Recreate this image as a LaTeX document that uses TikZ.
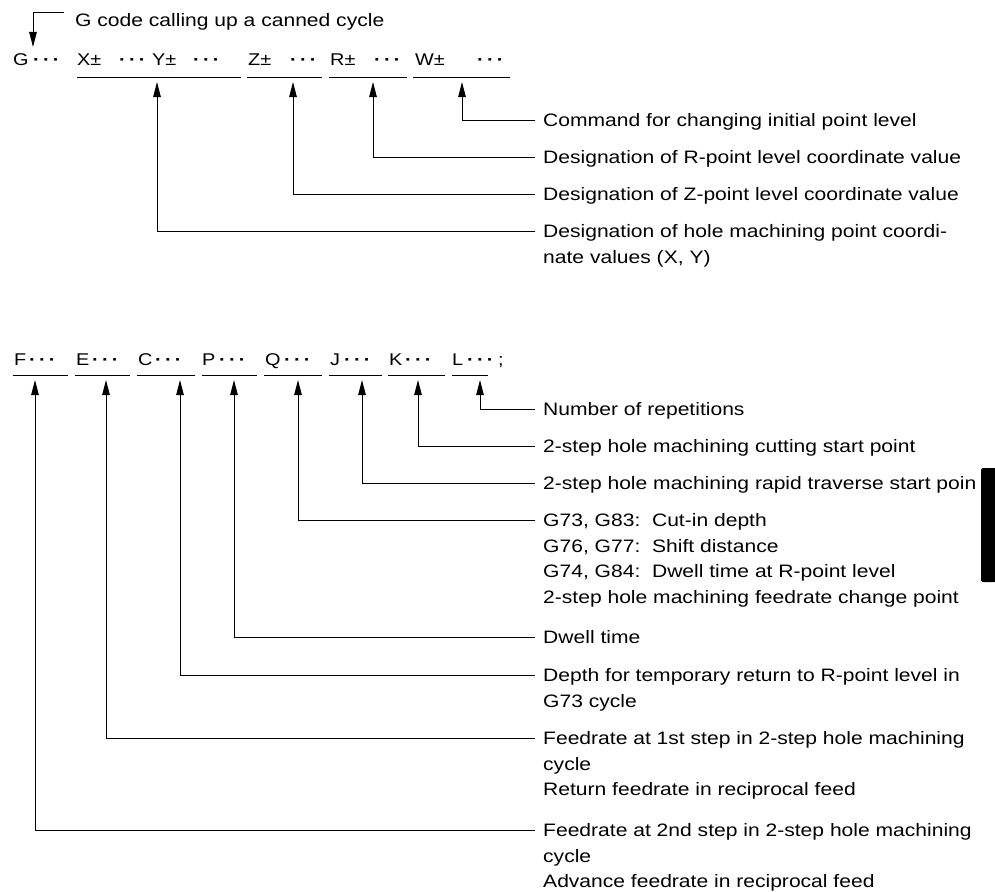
\documentclass[tikz,border=0pt]{standalone}
\usepackage{fontspec}
\setmainfont[FakeStretch=1.17]{Liberation Sans}
\usetikzlibrary{arrows.meta}
\newcommand\tdots{{\bfseries ·\kern3.2pt·\kern3.2pt·}}
\begin{document}
\begin{tikzpicture}[x=1pt,y=-1pt,
  lab/.style={anchor=west,inner sep=0pt,text height=13pt,text depth=0pt,font=\fontsize{18}{22}\selectfont},
  tok/.style={anchor=base west,inner sep=0pt,font=\fontsize{17}{20}\selectfont},
  uline/.style={line width=1pt},
  arr/.style={line width=1pt,-{Triangle[length=15pt,width=7.5pt]}}]
\useasboundingbox (0,0) rectangle (995,891);

% ---------- top formula row ----------
\node[tok] (g)  at (13,66)  {G};
\node[tok] (gd) at (33,66)  {\tdots};
\node[tok] (x)  at (77,66)  {X±};
\node[tok] (xd) at (119,66) {\tdots};
\node[tok] (y)  at (152,66) {Y±};
\node[tok] (yd) at (193,66) {\tdots};
\node[tok] (z)  at (248,66) {Z±};
\node[tok] (zd) at (290,66) {\tdots};
\node[tok] (r)  at (330,66) {R±};
\node[tok] (rd) at (374,66) {\tdots};
\node[tok] (w)  at (415,66) {W±};
\node[tok] (wd) at (477,66) {\tdots};

\draw[uline] (77,77.5) -- (241,77.5);
\draw[uline] (247,77.5) -- (322,77.5);
\draw[uline] (329,77.5) -- (407,77.5);
\draw[uline] (413,77.5) -- (510,77.5);

\coordinate (tG) at (33,47);
\coordinate (tY) at (157,82);
\coordinate (tZ) at (293,82);
\coordinate (tR) at (373,82);
\coordinate (tW) at (462,82);

\node[lab] (gc) at (75,20) {G code calling up a canned cycle};
\draw[arr] ([shift={(-11,-7)}]gc.west) -| (tG);

\node[lab] (cmd)   at (543,120) {Command for changing initial point level};
\node[lab] (rpt)   at (543,157) {Designation of R-point level coordinate value};
\node[lab] (zpt)   at (543,194) {Designation of Z-point level coordinate value};
\node[lab] (hole1) at (543,231) {Designation of hole machining point coordi-};
\node[lab] (hole2) at (543,256.5) {nate values (X, Y)};

\draw[arr] ([xshift=-8pt]cmd.west) -| (tW);
\draw[arr] ([xshift=-8pt]rpt.west) -| (tR);
\draw[arr] ([xshift=-8pt]zpt.west) -| (tZ);
\draw[arr] ([xshift=-8pt]hole1.west) -| (tY);

% ---------- bottom formula row ----------
\node[tok] (f)  at (14,365)  {F};
\node[tok] (fd) at (29,365)  {\tdots};
\node[tok] (e)  at (76,365)  {E};
\node[tok] (ed) at (92,365)  {\tdots};
\node[tok] (c)  at (138,365) {C};
\node[tok] (cd) at (155,365) {\tdots};
\node[tok] (p)  at (202,365) {P};
\node[tok] (pd) at (219,365) {\tdots};
\node[tok] (q)  at (265,365) {Q};
\node[tok] (qd) at (284,365) {\tdots};
\node[tok] (j)  at (330,365) {J};
\node[tok] (jd) at (344,365) {\tdots};
\node[tok] (k)  at (389,365) {K};
\node[tok] (kd) at (405,365) {\tdots};
\node[tok] (l)  at (452,365) {L};
\node[tok] (ld) at (467,365) {\tdots};
\node[tok] (sc) at (498,365) {;};

\draw[uline] (13,375.5) -- (68,375.5);
\draw[uline] (75,375.5) -- (130,375.5);
\draw[uline] (137,375.5) -- (195,375.5);
\draw[uline] (202,375.5) -- (257,375.5);
\draw[uline] (264,375.5) -- (322,375.5);
\draw[uline] (329,375.5) -- (382,375.5);
\draw[uline] (388,375.5) -- (445,375.5);
\draw[uline] (452,375.5) -- (488,375.5);

\coordinate (tF) at (35,380);
\coordinate (tE) at (106,380);
\coordinate (tC) at (180,380);
\coordinate (tP) at (234,380);
\coordinate (tQ) at (298,380);
\coordinate (tJ) at (362,380);
\coordinate (tK) at (418,380);
\coordinate (tL) at (480,380);

\node[lab] (num)    at (543,409)   {Number of repetitions};
\node[lab] (kcut)   at (543,446)   {2-step hole machining cutting start point};
\node[lab] (jrap)   at (543,483)   {2-step hole machining rapid traverse start poin};
\node[lab] (q1)     at (543,520)   {G73, G83:\ \ Cut-in depth};
\node[lab] (q2)     at (543,545.5) {G76, G77:\ \ Shift distance};
\node[lab] (q3)     at (543,571)   {G74, G84:\ \ Dwell time at R-point level};
\node[lab] (q4)     at (543,596.5) {2-step hole machining feedrate change point};
\node[lab] (dwell)  at (543,637)   {Dwell time};
\node[lab] (depth1) at (543,675)   {Depth for temporary return to R-point level in};
\node[lab] (depth2) at (543,700.5) {G73 cycle};
\node[lab] (fe1)    at (543,738)   {Feedrate at 1st step in 2-step hole machining};
\node[lab] (fe2)    at (543,763.5) {cycle};
\node[lab] (fe3)    at (543,789)   {Return feedrate in reciprocal feed};
\node[lab] (ff1)    at (543,830)   {Feedrate at 2nd step in 2-step hole machining};
\node[lab] (ff2)    at (543,855.5) {cycle};
\node[lab] (ff3)    at (543,881)   {Advance feedrate in reciprocal feed};

\draw[arr] ([xshift=-8pt]num.west)    -| (tL);
\draw[arr] ([xshift=-8pt]kcut.west)   -| (tK);
\draw[arr] ([xshift=-8pt]jrap.west)   -| (tJ);
\draw[arr] ([xshift=-8pt]q1.west)     -| (tQ);
\draw[arr] ([xshift=-8pt]dwell.west)  -| (tP);
\draw[arr] ([xshift=-8pt]depth1.west) -| (tC);
\draw[arr] ([xshift=-8pt]fe1.west)    -| (tE);
\draw[arr] ([xshift=-8pt]ff1.west)    -| (tF);

% black edge tab
\fill[black, rounded corners=1.5pt] (981,468) rectangle (996,582);
\end{tikzpicture}
\end{document}
